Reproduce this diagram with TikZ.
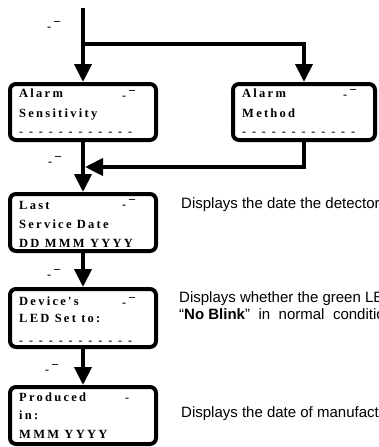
\documentclass[tikz,border=0pt]{standalone}
\usepackage{fontspec}
\setmainfont{Liberation Serif}
\newfontfamily\lcdfont{Liberation Serif}[LetterSpace=18]
\newfontfamily\notefont{Liberation Sans}
\usetikzlibrary{arrows.meta}

% a row of twelve spaced hyphens, as shown on an empty display line
\newcommand\dashstep{-\kern5.9pt}
\newcommand\dashrow{\dashstep\dashstep\dashstep\dashstep\dashstep\dashstep\dashstep\dashstep\dashstep\dashstep\dashstep-}

\begin{document}
\begin{tikzpicture}[x=1pt,y=-1pt,
  panel/.style={draw, line width=4pt, rounded corners=6pt, inner sep=0pt},
  flow/.style={line width=4pt, -{Triangle[length=18pt,width=17pt]}},
  lcdline/.style={anchor=base west, inner sep=0pt,
    font=\lcdfont\bfseries\fontsize{12.5pt}{14pt}\selectfont},
  dashline/.style={anchor=base west, inner sep=0pt,
    font=\bfseries\fontsize{12pt}{14pt}\selectfont},
  keymark/.style={anchor=base west, inner sep=0pt,
    font=\bfseries\fontsize{12pt}{14pt}\selectfont},
  note/.style={anchor=base west, inner sep=0pt,
    font=\notefont\fontsize{15pt}{17pt}\selectfont}]

\useasboundingbox (0,0) rectangle (378,447);
\clip (0,0) rectangle (378,447);

% display panels
\node[panel, minimum width=146pt, minimum height=56pt] (b1) at (83,112) {};
\node[panel, minimum width=142pt, minimum height=56pt] (b2) at (304,112) {};
\node[panel, minimum width=146pt, minimum height=57pt] (b3) at (83,222.5) {};
\node[panel, minimum width=146pt, minimum height=58pt] (b4) at (83,318) {};
\node[panel, minimum width=146pt, minimum height=57pt] (b5) at (83,415.5) {};

% panel contents
\node[lcdline] (b1l1) at (19,97) {Alarm};
\node[lcdline] (b1l2) at (19,117) {Sensitivity};
\node[dashline] (b1l3) at (19,135) {\dashrow};
\node[keymark] (b1k) at (122,99) {- ¯};

\node[lcdline] (b2l1) at (242,97) {Alarm};
\node[lcdline] (b2l2) at (242,117) {Method};
\node[dashline] (b2l3) at (242,135) {\dashrow};
\node[keymark] (b2k) at (343,98) {- ¯};

\node[lcdline] (b3l1) at (19,209) {Last};
\node[lcdline] (b3l2) at (19,228) {Service Date};
\node[lcdline] (b3l3) at (19,247) {DD MMM YYYY};
\node[keymark] (b3k) at (122,208) {- ¯};

\node[lcdline] (b4l1) at (19,305) {Device's};
\node[lcdline] (b4l2) at (19,322) {LED Set to:};
\node[dashline] (b4l3) at (19,344) {\dashrow};
\node[keymark] (b4k) at (122,306) {- ¯};

\node[lcdline] (b5l1) at (19,401) {Produced};
\node[lcdline] (b5l2) at (19,419) {in:};
\node[lcdline] (b5l3) at (19,438) {MMM YYYY};
\node[keymark] (b5k) at (125,401) {-};

% key marks beside the flow lines
\node[keymark] (m0) at (47,30) {- ¯};
\node[keymark] (m1) at (48,165) {- ¯};
\node[keymark] (m2) at (47,278) {- ¯};
\node[keymark] (m3) at (45,373) {- ¯};

% flow
\coordinate (start) at (83,8);
\coordinate (split) at (83,44);
\coordinate (join) at (85,167);
\draw[flow] (start) -- (b1.north);
\draw[flow] (split) -| (b2.north);
\draw[flow] (b1.south) -- (b3.north);
\draw[flow] (b2.south) |- (join);
\draw[flow] (b3.south) -- (b4.north);
\draw[flow] (b4.south) -- (b5.north);

% explanations
\node[note] (n1) at (181,208) {Displays the date the detector};
\node[note] (n2a) at (179,302) {Displays whether the green LED};
\node[note] (n2b) at (179,319) {“\textbf{No Blink}”\hspace{8.5pt}in\hspace{8.5pt}normal\hspace{8.5pt}conditions};
\node[note] (n3) at (181,417) {Displays the date of manufacture};
\end{tikzpicture}
\end{document}
